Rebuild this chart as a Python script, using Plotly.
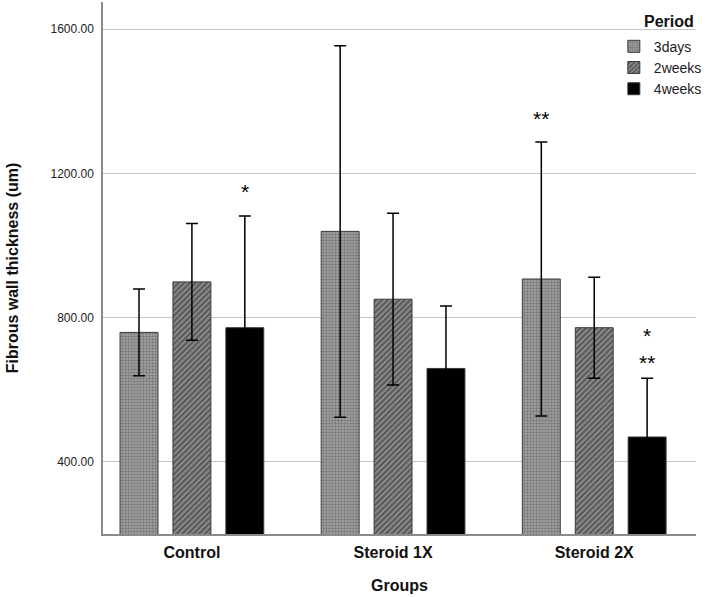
import plotly.graph_objects as go

groups = ["Control", "Steroid 1X", "Steroid 2X"]
periods = ["3days", "2weeks", "4weeks"]
means = {
    "3days": [759, 1039, 907],
    "2weeks": [899, 851, 772],
    "4weeks": [772, 659, 469],
}
errors = {
    "3days": [120, 515, 380],
    "2weeks": [162, 238, 140],
    "4weeks": [310, 173, 163],
}
y_ticks = [400, 800, 1200, 1600]
# significance marks: (group index, period index, label, y value)
sig_marks = [
    (0, 2, "*", 1150),
    (2, 0, "**", 1352),
    (2, 2, "*<br>**", 714),
]

styles = {
    "3days": dict(color="#8e8e8e", pattern=dict(shape=".", fgcolor="#4a4a4a", bgcolor="#a6a6a6", size=3, solidity=0.5)),
    "2weeks": dict(color="#555555", pattern=dict(shape="/", fgcolor="#1e1e1e", bgcolor="#8c8c8c", size=4, solidity=0.5)),
    "4weeks": dict(color="#000000"),
}

fig = go.Figure()
for p in periods:
    st = styles[p]
    marker = dict(color=st["color"], line=dict(color="#3a3a3a", width=1))
    if "pattern" in st:
        marker["pattern"] = st["pattern"]
    fig.add_trace(go.Bar(
        name=p, x=groups, y=means[p],
        marker=marker,
        error_y=dict(type="data", array=errors[p], color="#000000", thickness=1.5, width=6),
    ))

offsets = [-0.263, 0.0, 0.263]
for gi, pi, label, yv in sig_marks:
    fig.add_annotation(x=gi + offsets[pi], y=yv, xref="x", yref="y", text=label,
                       showarrow=False,
                       font=dict(size=21, color="#000000", family="Liberation Sans"))

# legend title
fig.add_annotation(x=1.0, y=1.0, xref="paper", yref="paper", xanchor="right", yanchor="top",
                   yshift=-9, text="<b>Period</b>", showarrow=False,
                   font=dict(size=16, color="#111111"))

fig.update_layout(
    width=708, height=597,
    margin=dict(l=103, r=11, t=2, b=63),
    paper_bgcolor="white", plot_bgcolor="white",
    barmode="group", bargap=0.211, bargroupgap=0.283,
    font=dict(family="Liberation Sans, Arial, sans-serif", color="#000000"),
    legend=dict(
        x=0.86, xanchor="left", y=0.946, yanchor="top",
        bgcolor="rgba(0,0,0,0)", font=dict(size=14, color="#222222"), tracegroupgap=0, itemwidth=30,
    ),
    showlegend=True,
)
fig.update_xaxes(
    type="category", range=[-0.442, 2.506], automargin=False,
    showline=True, linecolor="#8a8a8a", linewidth=1.5, ticks="",
    showgrid=False, ticklabelstandoff=3,
    tickfont=dict(size=16, color="#111111", weight="bold"),
    title=dict(text="<b>Groups</b>", font=dict(size=16, color="#111111"), standoff=20),
)
fig.update_yaxes(
    range=[200, 1675], tickvals=y_ticks, tickformat=".2f", automargin=False,
    showline=True, linecolor="#8a8a8a", linewidth=1.5, ticks="",
    showgrid=True, gridcolor="#c4c4c4", gridwidth=1,
    zeroline=False, ticklabelstandoff=5,
    tickfont=dict(size=12, color="#222222"),
    title=dict(text="<b>Fibrous wall thickness (um)</b>", font=dict(size=16, color="#111111"), standoff=28),
)

fig.write_html("out.html", config={"displayModeBar": False},
               post_script="document.body.style.margin='0';document.body.style.overflow='hidden';")
